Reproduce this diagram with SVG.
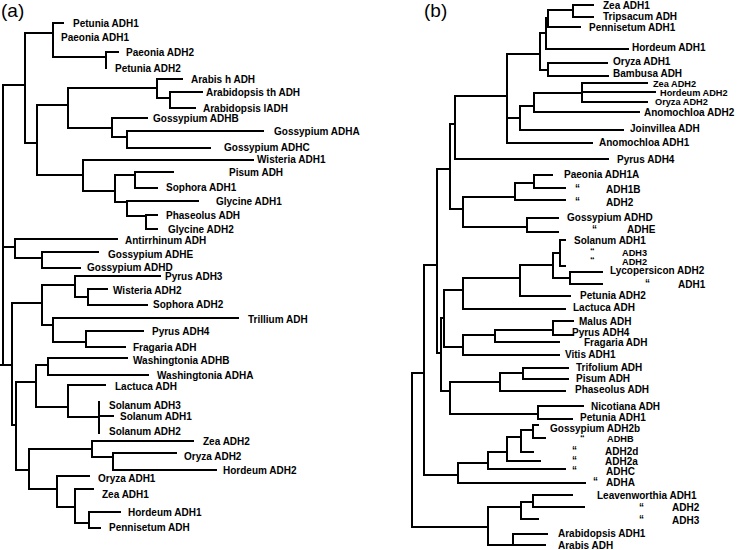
<svg xmlns="http://www.w3.org/2000/svg" width="747" height="550" viewBox="0 0 747 550">
<style>
.t{font-family:"Liberation Sans",Arial,sans-serif;font-weight:bold;font-size:10px;fill:#000;white-space:pre}
.s{font-size:9.2px}
.p{font-family:"Liberation Sans",Arial,sans-serif;font-size:19px;fill:#000}
.br{fill:none;stroke:#000;stroke-width:2;stroke-linecap:square}
</style>
<rect width="747" height="550" fill="#fff"/>
<text class="p" x="1" y="17">(a)</text>
<text class="p" x="424" y="17">(b)</text>
<g id="connectors-a" class="br">
<path d="M0,365H12M3,85V365M3,85H25M3,247H15"/>
<path d="M25,33V143M25,33H53M53,23V57M53,23H63M53,57H106M106,52V68M106,52H118"/>
<path d="M25,143H37M37,105V175M37,105H68M68,88V128M68,88H157M157,79V98M157,79H182M157,98H170M170,92V108M170,92H202M170,108H195"/>
<path d="M68,128H112M112,118V137M112,118H147M112,137H127M127,131V148M127,131H263M127,148H210"/>
<path d="M37,175H83M83,160V191M83,160H253M83,191H115M115,175V202M115,175H135M135,172V188M135,172H173M135,188H157M115,202H127M127,201V216M127,201H198M127,216H146M146,215V229M146,215H157M146,229H157"/>
<path d="M15,239V258M15,239H117M15,258H42M42,252V268M42,252H98M42,268H80"/>
<path d="M12,303V425M12,303H42M42,285V325M42,285H75M75,276V297M75,276H160M75,297H88M88,289V305M88,289H107M88,305H147M42,325H53M53,318V342M53,318H238M53,342H86M86,331V347M86,331H143M86,347H125"/>
<path d="M12,425H16M16,382V470M16,382H36M36,365V407M36,365H48M48,358V375M48,358H127M48,375H148M36,407H68M68,385V417M68,385H105M68,417H99M99,402V433M99,416H113"/>
<path d="M16,470H29M29,449V489M29,449H92M92,441V457M92,441H193M92,457H113M113,453V470M113,453H176M113,470H216M29,489H57M57,476V507M57,476H89M57,507H75M75,489V523M75,489H93M75,523H89M89,512V528M89,512H120M89,528H100"/>
</g>
<g id="leaves-a" class="t">
<g id="a1"><text x="73" y="27">Petunia ADH1</text></g>
<g id="a2"><text x="61" y="41">Paeonia ADH1</text></g>
<g id="a3"><text x="126" y="56">Paeonia ADH2</text></g>
<g id="a4"><text x="115" y="72">Petunia ADH2</text></g>
<g id="a5"><text x="191" y="83">Arabis h ADH</text></g>
<g id="a6"><text x="206" y="96">Arabidopsis th ADH</text></g>
<g id="a7"><text x="203" y="112">Arabidopsis lADH</text></g>
<g id="a8"><text x="153" y="122">Gossypium ADHB</text></g>
<g id="a9"><text x="274" y="135">Gossypium ADHA</text></g>
<g id="a10"><text x="224" y="151">Gossypium ADHC</text></g>
<g id="a11"><text x="257" y="163">Wisteria ADH1</text></g>
<g id="a12"><text x="229" y="176">Pisum ADH</text></g>
<g id="a13"><text x="166" y="191">Sophora ADH1</text></g>
<g id="a14"><text x="216" y="205">Glycine ADH1</text></g>
<g id="a15"><text x="166" y="219">Phaseolus ADH</text></g>
<g id="a16"><text x="168" y="233">Glycine ADH2</text></g>
<g id="a17"><text x="125" y="244">Antirrhinum ADH</text></g>
<g id="a18"><text x="108" y="258">Gossypium ADHE</text></g>
<g id="a19"><text x="87" y="271">Gossypium ADHD</text></g>
<g id="a20"><text x="165" y="280">Pyrus ADH3</text></g>
<g id="a21"><text x="113" y="294">Wisteria ADH2</text></g>
<g id="a22"><text x="153" y="308">Sophora ADH2</text></g>
<g id="a23"><text x="248" y="323">Trillium ADH</text></g>
<g id="a24"><text x="152" y="335">Pyrus ADH4</text></g>
<g id="a25"><text x="133" y="351">Fragaria ADH</text></g>
<g id="a26"><text x="133" y="364">Washingtonia ADHB</text></g>
<g id="a27"><text x="157" y="379">Washingtonia ADHA</text></g>
<g id="a28"><text x="115" y="390">Lactuca ADH</text></g>
<g id="a29"><text x="109" y="409">Solanum ADH3</text></g>
<g id="a30"><text x="120" y="420">Solanum ADH1</text></g>
<g id="a31"><text x="109" y="435">Solanum ADH2</text></g>
<g id="a32"><text x="203" y="445">Zea ADH2</text></g>
<g id="a33"><text x="184" y="460">Oryza ADH2</text></g>
<g id="a34"><text x="223" y="474">Hordeum ADH2</text></g>
<g id="a35"><text x="98" y="482">Oryza ADH1</text></g>
<g id="a36"><text x="102" y="498">Zea ADH1</text></g>
<g id="a37"><text x="128" y="516">Hordeum ADH1</text></g>
<g id="a38"><text x="109" y="531">Pennisetum ADH</text></g>
</g>
<g id="connectors-b" class="br">
<path d="M412,373V527M412,373H424M424,265V475M424,265H437M437,169V353M437,169H450M450,124V209M450,124H455M455,96V159M455,96H507M455,159H608"/>
<path d="M507,54V143M507,54H540M540,33V70M540,33H546M546,18V49M546,18H548M548,10V27M548,10H573M573,5V17M573,5H593M573,17H593M548,27H580M546,49H628M540,70H548M548,63V76M548,63H607M548,76H608"/>
<path d="M507,118H520M520,106V130M520,106H534M534,93V112M534,93H582M582,83V102M582,83H647M582,92H655M582,102H647M534,112H639M520,130H623M507,143H592"/>
<path d="M450,209H463M463,197V227M463,197H515M515,183V200M515,183H534M534,175V188M534,175H552M534,188H565M515,200H565M463,227H527M527,218V232M527,218H558M527,232H558"/>
<path d="M437,353H441M441,318V391M441,318H444M444,290V347M444,290H463M463,278V309M463,278H520M520,265V296M520,265H553M553,253V278M553,253H560M560,240V266M560,240H565M560,266H565M553,278H570M570,272V284M570,272H602M570,284H602M520,296H570M463,309H565"/>
<path d="M444,347H463M463,335V355M463,335H495M495,330V342M495,330H553M553,321V335M553,321H573M553,335H573M495,342H559M463,355H559"/>
<path d="M441,391H450M450,382V414M450,382H500M500,373V391M500,373H523M523,368V379M523,368H568M523,379H568M500,391H565M450,414H538M538,406V419M538,406H583M538,419H572"/>
<path d="M424,475H458M458,463V483M458,463H488M458,483H585M488,452V469M488,452H507M488,469H565M507,437V461M507,437H521M507,461H540M521,430V452M521,430H533M521,452H533M533,425V438M533,425H538M533,438H545"/>
<path d="M412,527H488M488,507V545M488,507H521M521,502V519M521,502H533M533,495V507M533,495H572M533,507H584M521,519H538M488,545H513M513,534V545M513,534H547M513,545H545"/>
</g>
<g id="leaves-b" class="t">
<g id="b1"><text x="603" y="9">Zea ADH1</text></g>
<g id="b2"><text x="603" y="20">Tripsacum ADH</text></g>
<g id="b3"><text x="589" y="31">Pennisetum ADH1</text></g>
<g id="b4"><text x="632" y="51">Hordeum ADH1</text></g>
<g id="b5"><text x="613" y="65">Oryza ADH1</text></g>
<g id="b6"><text x="613" y="77">Bambusa ADH</text></g>
<g id="b7" class="s"><text x="653" y="86.5">Zea ADH2</text></g>
<g id="b8" class="s"><text x="660" y="95.5">Hordeum ADH2</text></g>
<g id="b9" class="s"><text x="655" y="104.5">Oryza ADH2</text></g>
<g id="b10"><text x="644" y="116">Anomochloa ADH2</text></g>
<g id="b11"><text x="630" y="132">Joinvillea ADH</text></g>
<g id="b12"><text x="599" y="146">Anomochloa ADH1</text></g>
<g id="b13"><text x="617" y="163">Pyrus ADH4</text></g>
<g id="b14"><text x="564" y="178">Paeonia ADH1A</text></g>
<g id="b15"><text x="575" y="192">“</text><text x="606" y="193">ADH1B</text></g>
<g id="b16"><text x="575" y="205">“</text><text x="606" y="206">ADH2</text></g>
<g id="b17"><text x="567" y="221">Gossypium ADHD</text></g>
<g id="b18"><text x="592" y="233">“</text><text x="627" y="233">ADHE</text></g>
<g id="b19"><text x="574" y="244">Solanum ADH1</text></g>
<g id="b20" class="s"><text x="590" y="254">“</text><text x="622" y="256">ADH3</text></g>
<g id="b21" class="s"><text x="590" y="263">“</text><text x="622" y="264.5">ADH2</text></g>
<g id="b22"><text x="610" y="274">Lycopersicon ADH2</text></g>
<g id="b23"><text x="645" y="287">“</text><text x="678" y="288">ADH1</text></g>
<g id="b24"><text x="580" y="299">Petunia ADH2</text></g>
<g id="b25"><text x="573" y="311">Lactuca ADH</text></g>
<g id="b26"><text x="579" y="325">Malus ADH</text></g>
<g id="b27"><text x="572" y="336">Pyrus ADH4</text></g>
<g id="b28"><text x="584" y="346">Fragaria ADH</text></g>
<g id="b29"><text x="565" y="358">Vitis ADH1</text></g>
<g id="b30"><text x="576" y="371">Trifolium ADH</text></g>
<g id="b31"><text x="576" y="382">Pisum ADH</text></g>
<g id="b32"><text x="575" y="393">Phaseolus ADH</text></g>
<g id="b33"><text x="591" y="410">Nicotiana ADH</text></g>
<g id="b34"><text x="580" y="421">Petunia ADH1</text></g>
<g id="b35"><text x="550" y="432">Gossypium ADH2b</text></g>
<g id="b36" class="s"><text x="580" y="441">“</text><text x="607" y="442">ADHB</text></g>
<g id="b37"><text x="572" y="454">“</text><text x="605" y="455">ADH2d</text></g>
<g id="b38"><text x="572" y="464">“</text><text x="605" y="465">ADH2a</text></g>
<g id="b39"><text x="572" y="474">“</text><text x="606" y="475">ADHC</text></g>
<g id="b40"><text x="593" y="485">“</text><text x="606" y="486">ADHA</text></g>
<g id="b41"><text x="597" y="499">Leavenworthia ADH1</text></g>
<g id="b42"><text x="639" y="511">“</text><text x="672" y="511">ADH2</text></g>
<g id="b43"><text x="639" y="523">“</text><text x="672" y="524">ADH3</text></g>
<g id="b44"><text x="558" y="537">Arabidopsis  ADH1</text></g>
<g id="b45"><text x="558" y="549">Arabis ADH</text></g>
</g>
</svg>
